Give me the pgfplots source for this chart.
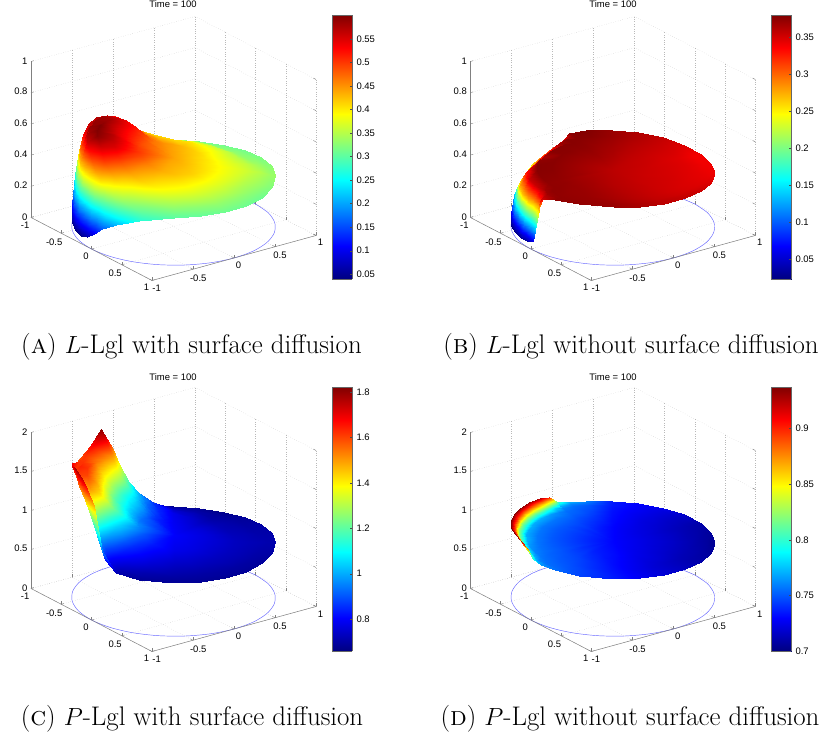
\documentclass[border=0pt]{standalone}
\usepackage{fontspec}
\newfontfamily\hel{Liberation Sans}
\usepackage{pgfplots}
\usepackage{pgfplotstable}
\pgfplotsset{compat=1.18}
\pgfplotstableread{
p r a b c d
0 0 .44 .36 .8 .73
0 .35 .40 .354 .76 .722
0 .6 .375 .35 .73 .716
0 .75 .36 .347 .72 .712
0 .85 .35 .345 .715 .709
0 .92 .34 .343 .71 .707
0 .96 .335 .342 .71 .705
0 1 .335 .342 .71 .705
15 0 .44 .36 .8 .73
15 .35 .402 .354 .76 .722
15 .6 .372 .351 .73 .716
15 .75 .352 .348 .717 .712
15 .85 .34 .347 .707 .71
15 .92 .33 .347 .702 .708
15 .96 .325 .348 .70 .707
15 1 .322 .348 .70 .707
30 0 .44 .36 .8 .73
30 .35 .405 .355 .76 .723
30 .6 .37 .352 .73 .717
30 .75 .345 .35 .715 .713
30 .85 .33 .35 .70 .711
30 .92 .32 .352 .695 .71
30 .96 .315 .354 .69 .71
30 1 .31 .355 .69 .71
45 0 .44 .36 .8 .73
45 .35 .41 .356 .765 .724
45 .6 .372 .354 .73 .72
45 .75 .347 .353 .712 .716
45 .85 .33 .354 .697 .715
45 .92 .32 .356 .692 .715
45 .96 .315 .357 .687 .715
45 1 .31 .357 .685 .715
60 0 .44 .36 .8 .73
60 .35 .415 .358 .77 .726
60 .6 .375 .357 .73 .722
60 .75 .35 .357 .71 .72
60 .85 .33 .358 .695 .72
60 .92 .32 .36 .69 .72
60 .96 .315 .36 .685 .72
60 1 .31 .36 .68 .72
75 0 .44 .36 .8 .73
75 .35 .42 .36 .775 .729
75 .6 .38 .361 .735 .727
75 .75 .35 .362 .712 .726
75 .85 .327 .364 .697 .727
75 .92 .315 .366 .69 .727
75 .96 .31 .366 .685 .727
75 1 .305 .366 .682 .727
90 0 .44 .36 .8 .73
90 .35 .425 .362 .78 .732
90 .6 .385 .365 .74 .732
90 .75 .35 .367 .715 .733
90 .85 .325 .37 .70 .734
90 .92 .31 .372 .69 .735
90 .96 .305 .372 .685 .735
90 1 .30 .372 .685 .735
110 0 .44 .36 .8 .73
110 .35 .435 .365 .81 .735
110 .6 .40 .37 .77 .74
110 .75 .355 .372 .74 .742
110 .85 .32 .373 .71 .744
110 .92 .30 .374 .70 .745
110 .96 .285 .374 .69 .745
110 1 .27 .374 .685 .745
125 0 .44 .36 .8 .73
125 .35 .45 .367 .83 .737
125 .6 .42 .372 .81 .745
125 .75 .37 .373 .78 .748
125 .85 .33 .374 .74 .75
125 .92 .285 .375 .72 .752
125 .96 .25 .375 .71 .754
125 1 .21 .375 .72 .755
135 0 .44 .36 .8 .73
135 .35 .46 .368 .86 .74
135 .6 .44 .373 .85 .747
135 .75 .40 .375 .82 .75
135 .85 .35 .375 .80 .753
135 .92 .29 .37 .79 .755
135 .96 .23 .36 .82 .76
135 1 .16 .35 .95 .765
142 0 .44 .36 .8 .73
142 .35 .47 .368 .88 .74
142 .6 .46 .374 .90 .748
142 .75 .43 .375 .88 .752
142 .85 .37 .37 .87 .755
142 .92 .30 .33 .95 .76
142 .96 .21 .22 1.1 .77
142 1 .10 .06 1.47 .80
148 0 .44 .36 .8 .73
148 .35 .48 .368 .90 .74
148 .6 .48 .374 .96 .749
148 .75 .46 .375 .98 .753
148 .85 .41 .36 1.0 .757
148 .92 .32 .30 1.15 .77
148 .96 .20 .14 1.4 .81
148 1 .06 .035 1.65 .89
155 0 .44 .36 .8 .73
155 .35 .49 .37 .93 .742
155 .6 .51 .375 1.05 .75
155 .75 .50 .376 1.15 .755
155 .85 .45 .355 1.25 .76
155 .92 .34 .28 1.3 .79
155 .96 .19 .12 1.45 .86
155 1 .045 .03 1.75 .925
165 0 .44 .36 .8 .73
165 .35 .50 .37 .95 .742
165 .6 .55 .376 1.2 .75
165 .75 .56 .377 1.42 .756
165 .85 .51 .355 1.5 .765
165 .92 .37 .27 1.45 .81
165 .96 .20 .11 1.55 .88
165 1 .04 .025 1.78 .935
175 0 .44 .36 .8 .73
175 .35 .50 .37 .96 .742
175 .6 .565 .377 1.22 .75
175 .75 .595 .378 1.48 .757
175 .85 .56 .34 1.6 .77
175 .92 .42 .27 1.6 .82
175 .96 .24 .12 1.6 .89
175 1 .05 .022 1.72 .936
185 0 .44 .36 .8 .73
185 .35 .50 .37 .95 .742
185 .6 .57 .377 1.22 .75
185 .75 .60 .378 1.48 .757
185 .85 .58 .33 1.62 .77
185 .92 .47 .26 1.64 .82
185 .96 .31 .17 1.62 .89
185 1 .12 .06 1.68 .936
195 0 .44 .36 .8 .73
195 .35 .495 .37 .94 .742
195 .6 .56 .377 1.2 .75
195 .75 .60 .375 1.45 .757
195 .85 .59 .31 1.6 .77
195 .92 .53 .25 1.62 .82
195 .96 .42 .205 1.62 .89
195 1 .27 .135 1.58 .936
205 0 .44 .36 .8 .73
205 .35 .49 .37 .93 .742
205 .6 .55 .377 1.18 .75
205 .75 .59 .365 1.4 .757
205 .85 .59 .305 1.55 .77
205 .92 .56 .265 1.6 .82
205 .96 .50 .23 1.62 .885
205 1 .42 .17 1.59 .935
215 0 .44 .36 .8 .73
215 .35 .485 .37 .92 .742
215 .6 .54 .377 1.14 .75
215 .75 .58 .378 1.36 .757
215 .85 .585 .32 1.52 .77
215 .92 .57 .275 1.62 .81
215 .96 .54 .26 1.68 .875
215 1 .50 .22 1.66 .93
225 0 .44 .36 .8 .73
225 .35 .48 .37 .90 .74
225 .6 .53 .377 1.1 .75
225 .75 .56 .378 1.32 .756
225 .85 .56 .34 1.5 .765
225 .92 .55 .31 1.66 .80
225 .96 .54 .29 1.76 .86
225 1 .53 .26 1.81 .925
232 0 .44 .36 .8 .73
232 .35 .47 .37 .88 .74
232 .6 .52 .376 1.04 .748
232 .75 .535 .378 1.2 .755
232 .85 .53 .37 1.35 .76
232 .92 .525 .33 1.47 .78
232 .96 .51 .315 1.53 .83
232 1 .50 .295 1.5 .90
238 0 .44 .36 .8 .73
238 .35 .465 .37 .86 .738
238 .6 .48 .376 .98 .746
238 .75 .485 .378 1.08 .752
238 .85 .485 .378 1.15 .755
238 .92 .475 .36 1.2 .76
238 .96 .475 .32 1.2 .77
238 1 .46 .30 1.15 .80
245 0 .44 .36 .8 .73
245 .35 .46 .37 .84 .736
245 .6 .455 .375 .92 .744
245 .75 .44 .377 .98 .75
245 .85 .43 .378 .98 .752
245 .92 .425 .378 .96 .755
245 .96 .415 .378 .93 .76
245 1 .40 .375 .90 .77
255 0 .44 .36 .8 .73
255 .35 .45 .368 .82 .734
255 .6 .43 .372 .85 .74
255 .75 .41 .375 .86 .745
255 .85 .39 .378 .82 .748
255 .92 .38 .379 .78 .75
255 .96 .365 .38 .74 .755
255 1 .35 .38 .72 .76
270 0 .44 .36 .8 .73
270 .35 .44 .365 .79 .73
270 .6 .41 .368 .78 .732
270 .75 .37 .37 .75 .733
270 .85 .35 .372 .72 .734
270 .92 .335 .372 .70 .735
270 .96 .325 .372 .69 .735
270 1 .31 .372 .68 .735
285 0 .44 .36 .8 .73
285 .35 .43 .361 .775 .727
285 .6 .405 .362 .75 .727
285 .75 .37 .363 .725 .727
285 .85 .345 .364 .705 .728
285 .92 .33 .364 .69 .729
285 .96 .32 .364 .682 .729
285 1 .31 .364 .675 .73
300 0 .44 .36 .8 .73
300 .35 .42 .358 .76 .725
300 .6 .39 .357 .72 .722
300 .75 .36 .357 .70 .722
300 .85 .33 .357 .69 .722
300 .92 .32 .357 .68 .723
300 .96 .315 .357 .675 .724
300 1 .31 .357 .67 .725
315 0 .44 .36 .8 .73
315 .35 .412 .356 .76 .723
315 .6 .38 .353 .72 .719
315 .75 .355 .352 .705 .717
315 .85 .33 .35 .695 .716
315 .92 .322 .348 .69 .716
315 .96 .317 .348 .687 .717
315 1 .315 .348 .685 .717
330 0 .44 .36 .8 .73
330 .35 .405 .355 .76 .722
330 .6 .37 .35 .72 .716
330 .75 .35 .347 .71 .713
330 .85 .33 .343 .70 .711
330 .92 .325 .34 .70 .71
330 .96 .32 .34 .70 .71
330 1 .32 .34 .70 .71
345 0 .44 .36 .8 .73
345 .35 .402 .354 .76 .722
345 .6 .372 .35 .725 .716
345 .75 .355 .347 .715 .712
345 .85 .34 .344 .707 .71
345 .92 .332 .341 .705 .708
345 .96 .327 .341 .705 .707
345 1 .327 .341 .705 .707
360 0 .44 .36 .8 .73
360 .35 .40 .354 .76 .722
360 .6 .375 .35 .73 .716
360 .75 .36 .347 .72 .712
360 .85 .35 .345 .715 .709
360 .92 .34 .343 .71 .707
360 .96 .335 .342 .71 .705
360 1 .335 .342 .71 .705
}\grid
\pgfplotstableread{
x y z
1 0 0
.966 .259 0
.866 .5 0
.707 .707 0
.5 .866 0
.259 .966 0
0 1 0
-.259 .966 0
-.5 .866 0
-.707 .707 0
-.866 .5 0
-.966 .259 0
-1 0 0
-.966 -.259 0
-.866 -.5 0
-.707 -.707 0
-.5 -.866 0
-.259 -.966 0
0 -1 0
.259 -.966 0
.5 -.866 0
.707 -.707 0
.866 -.5 0
.966 -.259 0
1 0 0
}\tableCircle
\pgfplotsset{
 tl/.style={font=\hel\fontsize{9.5}{10}\selectfont},
 panel/.style n args={5}{
  at={(#1bp,#2bp)},anchor=origin,
  x={(82bp,22.5bp)},y={(-60.5bp,31.5bp)},z={(0bp,#3 bp)},
  xmin=-1,xmax=1,ymin=-1,ymax=1,zmin=0,zmax=#4,
  clip=false,grid=major,
  grid style={dotted,gray!55,line width=.3pt},
  axis line style={draw=none},tick pos=left,
  tick style={gray,line width=.4pt},major tick length=3bp,
  xtick={-1,-.5,0,.5,1},ytick={-1,-.5,0,.5,1},
  xticklabels={-1,-0.5,0,0.5,1},yticklabels={1,0.5,0,-0.5,-1},
  tick label style={tl},colormap/jet,
  #5},
 surfstyle/.style 2 args={surf,shader=interp,z buffer=sort,mesh/rows=31,mesh/cols=8,
  point meta=z,point meta min=#1,point meta max=#2},
 cbar/.style n args={6}{
  at={(#1bp,#2bp)},anchor=south west,scale only axis,width=20bp,height=264.5bp,
  xmin=0,xmax=1,ymin=#3,ymax=#4,xtick=\empty,ytick={#5},yticklabels={#6},
  ytick pos=right,yticklabel pos=right,
  tick align=inside,major tick length=2.5bp,tick style={black!70,line width=.3pt},
  axis line style={black!60,line width=.4pt},
  tick label style={tl},yticklabel style={xshift=1bp},
  colormap/jet,view={0}{90},enlargelimits=false},
}
\newcommand\surfplot[3]{\addplot3[surfstyle={#2}{#3}] table[
  x expr={\thisrow{r}*cos(\thisrow{p}+36)},
  y expr={-\thisrow{r}*sin(\thisrow{p}+36)},z=#1]{\grid};}
\newcommand\base{%
 \addplot3[no marks,smooth,color={rgb,1:red,.4;green,.4;blue,1},line width=.45pt] table[x=x,y=y,z=z]{\tableCircle};
 \draw[gray,line width=.5pt] (axis cs:-1,1,0)--(axis cs:-1,-1,0)--(axis cs:1,-1,0);
}
\newcommand\barplot[2]{\addplot3[surf,shader=interp,mesh/rows=2,mesh/cols=2,point meta=z] coordinates {(0,#1,#1) (1,#1,#1) (0,#2,#2) (1,#2,#2)};}
\begin{document}
\begin{tikzpicture}[x=1bp,y=1bp]
\path[use as bounding box] (0,0) rectangle (820,736);
% A
\begin{axis}[panel={173.5}{509.5}{156}{1}{ztick={0,.2,.4,.6,.8,1},zticklabels={0,0.2,0.4,0.6,0.8,1}}]
\base \draw[gray,line width=.5pt] (axis cs:-1,1,0)--(axis cs:-1,1,1);
\surfplot{a}{.0387}{.601}
\end{axis}
\begin{axis}[cbar={332}{456.5}{.0387}{.601}{.05,.1,.15,.2,.25,.3,.35,.4,.45,.5,.55}{0.05,0.1,0.15,0.2,0.25,0.3,0.35,0.4,0.45,0.5,0.55}]
\barplot{.0387}{.601}
\end{axis}
% B
\begin{axis}[panel={612.8}{509.5}{156}{1}{ztick={0,.2,.4,.6,.8,1},zticklabels={0,0.2,0.4,0.6,0.8,1}}]
\base \draw[gray,line width=.5pt] (axis cs:-1,1,0)--(axis cs:-1,1,1);
\surfplot{b}{.0224}{.3807}
\end{axis}
\begin{axis}[cbar={771}{456.5}{.0224}{.3807}{.05,.1,.15,.2,.25,.3,.35}{0.05,0.1,0.15,0.2,0.25,0.3,0.35}]
\barplot{.0224}{.3807}
\end{axis}
% C
\begin{axis}[panel={173.5}{138.5}{78}{2}{ztick={0,.5,1,1.5,2},zticklabels={0,0.5,1,1.5,2}}]
\base \draw[gray,line width=.5pt] (axis cs:-1,1,0)--(axis cs:-1,1,2);
\surfplot{c}{.6576}{1.822}
\end{axis}
\begin{axis}[cbar={332}{84.5}{.6576}{1.822}{.8,1,1.2,1.4,1.6,1.8}{0.8,1,1.2,1.4,1.6,1.8}]
\barplot{.6576}{1.822}
\end{axis}
% D
\begin{axis}[panel={612.8}{138.5}{78}{2}{ztick={0,.5,1,1.5,2},zticklabels={0,0.5,1,1.5,2}}]
\base \draw[gray,line width=.5pt] (axis cs:-1,1,0)--(axis cs:-1,1,2);
\surfplot{d}{.7}{.9367}
\end{axis}
\begin{axis}[cbar={771}{84.5}{.7}{.9367}{.7,.75,.8,.85,.9}{0.7,0.75,0.8,0.85,0.9}]
\barplot{.7}{.9367}
\end{axis}
\foreach \cx/\cy in {173/732,613/732,173/359,613/359}
  \node[font=\hel\fontsize{9.5}{10}\selectfont] at (\cx,\cy) {Time = 100};
\def\capfont{\fontsize{27}{30}\selectfont}
\node[font=\capfont,anchor=base] at (191.5,382) {(\textsc{a}) $L$-Lgl with surface diffusion};
\node[font=\capfont,anchor=base] at (631,382) {(\textsc{b}) $L$-Lgl without surface diffusion};
\node[font=\capfont,anchor=base] at (192,10) {(\textsc{c}) $P$-Lgl with surface diffusion};
\node[font=\capfont,anchor=base] at (630,10) {(\textsc{d}) $P$-Lgl without surface diffusion};
\end{tikzpicture}
\end{document}
